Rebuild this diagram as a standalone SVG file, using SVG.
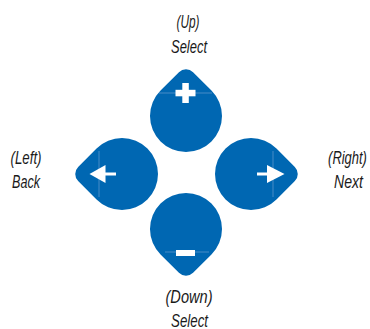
<svg xmlns="http://www.w3.org/2000/svg" width="370" height="329" viewBox="0 0 370 329">
<style>
.btn{fill:#0067b2}
.ico{fill:#ffffff}
.faint{stroke:#8fb4dc;stroke-width:0.7;opacity:0.7}
.lbl{font-family:"Liberation Sans",Arial,sans-serif;font-style:italic;font-size:17.5px;fill:#1a1a1a;text-anchor:middle}
</style>
<defs>
<path id="drop" d="M -25.46 -25.46 L -7.07 -43.84 A 10 10 0 0 1 7.07 -43.84 L 25.46 -25.46 A 36 36 0 1 1 -25.46 -25.46 Z"/>
</defs>
<rect width="370" height="329" fill="#ffffff"/>
<g id="connectors"></g>
<g id="up">
<use href="#drop" class="btn" transform="translate(186,116)"/>
<line class="faint" x1="159" y1="93" x2="212" y2="93"/>
<rect class="ico" x="175.5" y="89.8" width="20" height="6.5"/>
<rect class="ico" x="182.3" y="83" width="6.5" height="20"/>
<text class="lbl" x="188" y="27.5" textLength="23" lengthAdjust="spacingAndGlyphs">(Up)</text>
<text class="lbl" x="189" y="52.5" textLength="36" lengthAdjust="spacingAndGlyphs">Select</text>
</g>
<g id="left">
<use href="#drop" class="btn" transform="translate(122,174) rotate(-90)"/>
<line class="faint" x1="99" y1="151" x2="99" y2="197"/>
<polygon class="ico" points="89.5,174 105.5,165 105.5,183"/>
<rect class="ico" x="105" y="172.5" width="11" height="3"/>
<text class="lbl" x="26" y="163.5" textLength="31" lengthAdjust="spacingAndGlyphs">(Left)</text>
<text class="lbl" x="26" y="187.5" textLength="28" lengthAdjust="spacingAndGlyphs">Back</text>
</g>
<g id="right">
<use href="#drop" class="btn" transform="translate(251,174) rotate(90)"/>
<line class="faint" x1="273" y1="151" x2="273" y2="197"/>
<polygon class="ico" points="284.5,174 267,165 267,183"/>
<rect class="ico" x="257" y="172.5" width="10.5" height="3"/>
<text class="lbl" x="0" y="0" transform="translate(347.5,163.5) scale(0.74,1)">(Right)</text>
<text class="lbl" x="348.5" y="187.5" textLength="29" lengthAdjust="spacingAndGlyphs">Next</text>
</g>
<g id="down">
<use href="#drop" class="btn" transform="translate(186,229) rotate(180)"/>
<line class="faint" x1="165" y1="252" x2="209" y2="252"/>
<rect class="ico" x="176" y="250" width="19" height="6"/>
<text class="lbl" x="189" y="302.5" textLength="47" lengthAdjust="spacingAndGlyphs">(Down)</text>
<text class="lbl" x="189.5" y="326.5" textLength="37" lengthAdjust="spacingAndGlyphs">Select</text>
</g>
</svg>
